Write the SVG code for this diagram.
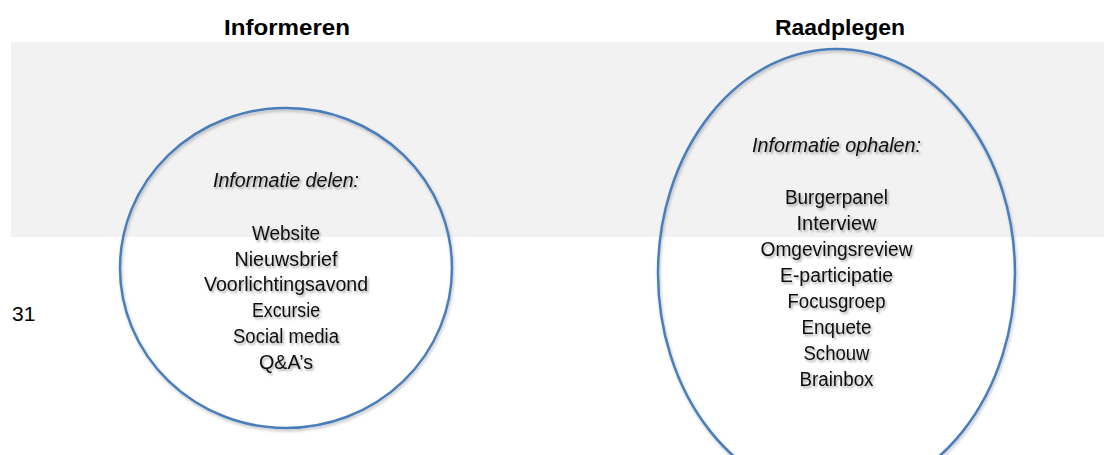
<svg xmlns="http://www.w3.org/2000/svg" width="1104" height="455" viewBox="0 0 1104 455">
  <defs>
    <filter id="tshadow" x="-10%" y="-30%" width="120%" height="170%">
      <feDropShadow dx="1.5" dy="2" stdDeviation="1.3" flood-color="#000" flood-opacity="0.35"/>
    </filter>
    <filter id="eshadow" x="-10%" y="-10%" width="120%" height="120%">
      <feDropShadow dx="1" dy="2" stdDeviation="1.5" flood-color="#000" flood-opacity="0.25"/>
    </filter>
  </defs>
  <style>
    .title { font-family: "Liberation Sans", Arial, sans-serif; font-weight: bold; font-size: 22px; fill: #000; text-anchor: middle; }
    .head { font-family: "Liberation Sans", Arial, sans-serif; font-style: italic; font-size: 20px; fill: #111; text-anchor: middle; }
    .item { font-family: "Liberation Sans", Arial, sans-serif; font-size: 20px; fill: #111; text-anchor: middle; }
    .num { font-family: "Liberation Sans", Arial, sans-serif; font-size: 21px; fill: #000; }
    .ell { fill: none; stroke: #4a7ebb; stroke-width: 2.5; }
  </style>

  <rect id="band" x="11" y="42" width="1093" height="195" fill="#f2f2f2"/>

  <g id="titles">
    <text class="title" x="287" y="35" textLength="126" lengthAdjust="spacingAndGlyphs">Informeren</text>
    <text class="title" x="840" y="35" textLength="130" lengthAdjust="spacingAndGlyphs">Raadplegen</text>
  </g>

  <text id="page-number" class="num" x="12" y="321">31</text>

  <g id="node-informeren">
    <ellipse class="ell" cx="286" cy="268" rx="166" ry="160" filter="url(#eshadow)"/>
    <g filter="url(#tshadow)">
      <text class="head" x="286" y="187" textLength="146" lengthAdjust="spacingAndGlyphs">Informatie delen:</text>
      <text class="item" x="286" y="240" textLength="68" lengthAdjust="spacingAndGlyphs">Website</text>
      <text class="item" x="286" y="265.7" textLength="103" lengthAdjust="spacingAndGlyphs">Nieuwsbrief</text>
      <text class="item" x="286" y="291.4" textLength="164" lengthAdjust="spacingAndGlyphs">Voorlichtingsavond</text>
      <text class="item" x="286" y="317.1" textLength="68" lengthAdjust="spacingAndGlyphs">Excursie</text>
      <text class="item" x="286" y="342.8" textLength="106" lengthAdjust="spacingAndGlyphs">Social media</text>
      <text class="item" x="286" y="368.5" textLength="54" lengthAdjust="spacingAndGlyphs">Q&amp;A’s</text>
    </g>
  </g>

  <g id="node-raadplegen">
    <ellipse class="ell" cx="836.5" cy="273" rx="178.5" ry="224" filter="url(#eshadow)"/>
    <g filter="url(#tshadow)">
      <text class="head" x="836.5" y="152" textLength="169" lengthAdjust="spacingAndGlyphs">Informatie ophalen:</text>
      <text class="item" x="836.5" y="204" textLength="103" lengthAdjust="spacingAndGlyphs">Burgerpanel</text>
      <text class="item" x="836.5" y="230" textLength="80" lengthAdjust="spacingAndGlyphs">Interview</text>
      <text class="item" x="836.5" y="256" textLength="152" lengthAdjust="spacingAndGlyphs">Omgevingsreview</text>
      <text class="item" x="836.5" y="282" textLength="113" lengthAdjust="spacingAndGlyphs">E-participatie</text>
      <text class="item" x="836.5" y="308" textLength="98" lengthAdjust="spacingAndGlyphs">Focusgroep</text>
      <text class="item" x="836.5" y="334" textLength="70" lengthAdjust="spacingAndGlyphs">Enquete</text>
      <text class="item" x="836.5" y="360" textLength="66" lengthAdjust="spacingAndGlyphs">Schouw</text>
      <text class="item" x="836.5" y="386" textLength="74" lengthAdjust="spacingAndGlyphs">Brainbox</text>
    </g>
  </g>

  <g id="connectors"/>
</svg>
